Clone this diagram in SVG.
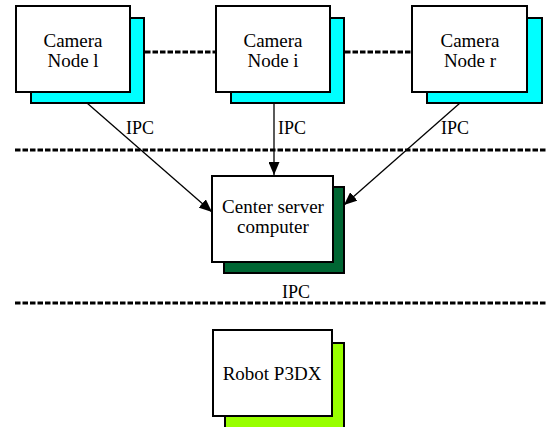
<svg xmlns="http://www.w3.org/2000/svg" width="547" height="427" viewBox="0 0 547 427">
<style>
.box{fill:#fff;stroke:#000;stroke-width:2}
.sh{stroke:#000;stroke-width:2}
.cy{fill:#00ffff}
.dg{fill:#006633}
.lg{fill:#99ff00}
.t{font-family:"Liberation Serif","Times New Roman",serif;font-size:19px;fill:#000;text-anchor:middle}
.ipc{font-family:"Liberation Serif","Times New Roman",serif;font-size:18px;fill:#000}
.dash{stroke:#000;stroke-width:3;stroke-dasharray:5.5 2;fill:none}
.ar{stroke:#000;stroke-width:1.3;fill:none;marker-end:url(#ah)}
</style>
<defs>
<marker id="ah" markerWidth="13" markerHeight="11" refX="13" refY="5.5" orient="auto" markerUnits="userSpaceOnUse" viewBox="0 0 13 11">
<path d="M0,0 L13,5.5 L0,11 Z" fill="#000"/>
</marker>
</defs>
<rect width="547" height="427" fill="#fff"/>
<g id="separators">
<line class="dash" x1="15" y1="150" x2="547" y2="150"/>
<line class="dash" x1="15" y1="303" x2="547" y2="303"/>
</g>
<g id="connectors">
<line class="dash" x1="145" y1="52" x2="216" y2="52"/>
<line class="dash" x1="345" y1="52" x2="412" y2="52"/>
<line class="ar" x1="87" y1="103" x2="212" y2="212"/>
<line class="ar" x1="274" y1="103" x2="274" y2="175"/>
<line class="ar" x1="460" y1="103" x2="344" y2="205"/>
</g>
<g id="labels">
<text class="ipc" x="126" y="134">IPC</text>
<text class="ipc" x="278" y="134">IPC</text>
<text class="ipc" x="441" y="134">IPC</text>
<text class="ipc" x="282" y="298">IPC</text>
</g>
<g id="camera-l">
<rect class="sh cy" x="31" y="18" width="113" height="85"/>
<rect class="box" x="16" y="6" width="114" height="86"/>
<text class="t" x="73" y="47">Camera</text>
<text class="t" x="73" y="67">Node l</text>
</g>
<g id="camera-i">
<rect class="sh cy" x="231" y="18" width="113" height="85"/>
<rect class="box" x="216" y="6" width="114" height="86"/>
<text class="t" x="273" y="47">Camera</text>
<text class="t" x="273" y="67">Node i</text>
</g>
<g id="camera-r">
<rect class="sh cy" x="427" y="18" width="115" height="85"/>
<rect class="box" x="412" y="6" width="115" height="86"/>
<text class="t" x="470" y="47">Camera</text>
<text class="t" x="470" y="67">Node r</text>
</g>
<g id="center-server">
<rect class="sh dg" x="224" y="187" width="120" height="86"/>
<rect class="box" x="212" y="176" width="121" height="86"/>
<text class="t" x="273" y="213">Center server</text>
<text class="t" x="273" y="233">computer</text>
</g>
<g id="robot">
<rect class="sh lg" x="225" y="343" width="119" height="90"/>
<rect class="box" x="213" y="330" width="119" height="86"/>
<text class="t" x="272" y="380">Robot P3DX</text>
</g>
</svg>
